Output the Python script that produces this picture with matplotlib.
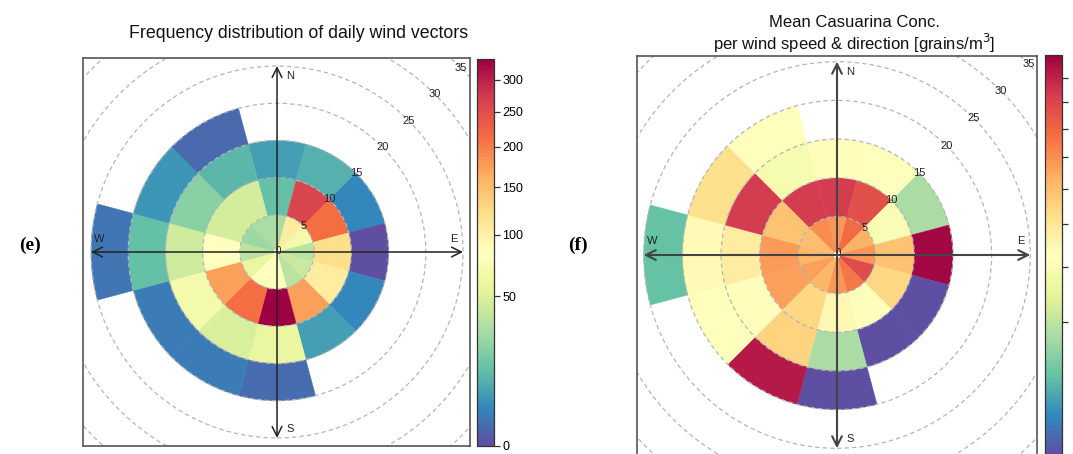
import numpy as np
import matplotlib
matplotlib.use("Agg")
import matplotlib.pyplot as plt
from matplotlib.patches import Wedge, Circle
from matplotlib.collections import PatchCollection
from matplotlib.colors import PowerNorm

plt.rcParams['font.family'] = ['Liberation Sans', 'DejaVu Sans']

nan = np.nan
# wind direction sector centres (degrees clockwise from N), 30 deg wide
directions = [0, 30, 60, 90, 120, 150, 180, 210, 240, 270, 300, 330]
# lower edges of wind speed bins (width 5)
speed_lower = [0, 5, 10, 15, 20]
speed_width = 5

# (e) frequency of daily wind vectors, per speed bin
freq_ws_0_5   = [30, 105, 68, 36, 41, 36, 84, 80, 59, 36, 26, 30]
freq_ws_5_10  = [13, 259, 214, 121, 105, 174, 335, 214, 174, 84, 46, 46]
freq_ws_10_15 = [6.6, 9.7, 3.4, 0.0, 3.4, 6.6, 59, 48, 68, 43, 21, 11]
freq_ws_15_20 = [nan, nan, nan, nan, nan, nan, 1.0, 2.1, 2.1, 13, 5, 0.8]
freq_ws_20_25 = [nan, nan, nan, nan, nan, nan, nan, nan, nan, 1.5, nan, nan]
freq_max = 335
freq_ticks = [0, 50, 100, 150, 200, 250, 300]

# (f) mean Casuarina concentration, per speed bin
conc_ws_0_5   = [49, 58, 43, 49, 68, 55, 49, 42, 47, 42, 40, 51]
conc_ws_5_10  = [73, 67, 20, 39, 34, 23, 25, 34, 47, 48, 39, 73]
conc_ws_10_15 = [23, 22, 8, 88, 0.0, 0.0, 8, 35, 23, 28, 73, 19]
conc_ws_15_20 = [nan, nan, nan, nan, nan, nan, 0.0, 83, 22, 24, 32, 22]
conc_ws_20_25 = [nan, nan, nan, nan, nan, nan, nan, nan, nan, 3.6, nan, nan]
conc_max = 90
conc_ticks = [10, 20, 30, 40, 50, 60, 70, 80]

grid_radii = [5, 10, 15, 20, 25, 30, 35]
compass = ['N', 'E', 'S', 'W']

W, H = 1073, 454
fig = plt.figure(figsize=(W / 100, H / 100), dpi=100)


def rect(x0, y0, x1, y1):
    return [x0 / W, (H - y1) / H, (x1 - x0) / W, (y1 - y0) / H]


def panel(ax_px, lims, cax_px, rings, vmax, ticks, show_labels, title,
          title_xy, title_size, arrow_color, arrow_lw, letter, letter_xy):
    ax = fig.add_axes(rect(*ax_px))
    ax.set_xlim(lims[0], lims[1])
    ax.set_ylim(lims[2], lims[3])
    ax.set_xticks([])
    ax.set_yticks([])
    for s in ax.spines.values():
        s.set_color('#555555')
        s.set_linewidth(1.2)

    patches, vals = [], []
    for lo, ring in zip(speed_lower, rings):
        for d, v in zip(directions, ring):
            if np.isnan(v):
                continue
            patches.append(Wedge((0, 0), lo + speed_width, 90 - d - 15, 90 - d + 15,
                                 width=speed_width))
            vals.append(v)
    norm = PowerNorm(gamma=0.5, vmin=0, vmax=vmax)
    coll = PatchCollection(patches, cmap='Spectral_r', norm=norm,
                           edgecolor='face', linewidth=0.3, zorder=1)
    coll.set_array(np.array(vals))
    ax.add_collection(coll)

    for r in grid_radii:
        ax.add_patch(Circle((0, 0), r, fill=False, ec='#b5b5b5', lw=0.9,
                            ls=(0, (3.5, 2.5)), zorder=2))
        a = np.deg2rad(45)
        ax.text(r * np.cos(a), r * np.sin(a), str(r), fontsize=8,
                ha='center', va='center', color='#222222', zorder=4)
    ax.add_patch(Circle((0, 0), 0.35, color='white', zorder=3))
    ax.text(0.15, 0.2, '0', fontsize=7, ha='center', va='center', color='#222222', zorder=4)

    L = 25
    arrow = dict(arrowstyle='<->,head_length=0.7,head_width=0.35', color=arrow_color,
                 lw=arrow_lw, shrinkA=0, shrinkB=0)
    ax.annotate('', xy=(0, L), xytext=(0, -L), arrowprops=arrow, zorder=5)
    ax.annotate('', xy=(L, 0), xytext=(-L, 0), arrowprops=arrow, zorder=5)
    lab_pos = {'N': (1.75, 23.7), 'E': (23.8, 1.8), 'S': (1.75, -23.8), 'W': (-23.9, 1.8)}
    for c in compass:
        ax.text(*lab_pos[c], c, fontsize=8, ha='center', va='center', color='#222222', zorder=5)

    cax = fig.add_axes(rect(*cax_px))
    cb = fig.colorbar(coll, cax=cax, ticks=ticks)
    cb.outline.set_edgecolor('#333333')
    cb.outline.set_linewidth(0.9)
    cax.tick_params(direction='out', length=4, width=0.9, color='#333333',
                    labelsize=9, pad=2)
    if not show_labels:
        cax.set_yticklabels([])

    fig.text(title_xy[0] / W, 1 - title_xy[1] / H, title, ha='center', va='center',
             fontsize=title_size, color='#111111', linespacing=1.15)
    fig.text(letter_xy[0] / W, 1 - letter_xy[1] / H, letter, ha='center', va='center',
             fontsize=14, family='Liberation Serif', fontweight='bold')


panel((83, 58, 470, 446), (-26.08, 25.94, -26.08, 26.08), (477, 59, 494, 446),
      [freq_ws_0_5, freq_ws_5_10, freq_ws_10_15, freq_ws_15_20, freq_ws_20_25],
      freq_max, freq_ticks, True,
      'Frequency distribution of daily wind vectors', (299, 33), 12.8,
      '#222222', 1.1, '(e)', (30, 245))

panel((637, 56, 1037, 455), (-25.87, 25.87, -25.87, 25.74), (1045, 55, 1062, 456),
      [conc_ws_0_5, conc_ws_5_10, conc_ws_10_15, conc_ws_15_20, conc_ws_20_25],
      conc_max, conc_ticks, False,
      'Mean Casuarina Conc.\nper wind speed & direction [grains/m$^3$]', (854, 35), 12.0,
      '#444444', 1.5, '(f)', (578, 245))

fig.savefig('out.png', dpi=100)
